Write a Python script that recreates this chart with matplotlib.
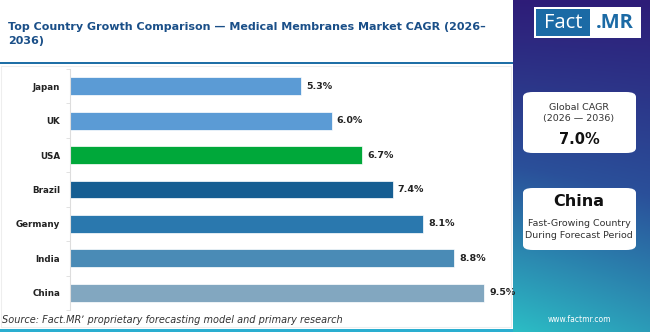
import numpy as np
import matplotlib
matplotlib.use("Agg")
import matplotlib.pyplot as plt
from matplotlib.patches import FancyBboxPatch, Rectangle

# data
countries = ["Japan", "UK", "USA", "Brazil", "Germany", "India", "China"]
cagr = [5.3, 6.0, 6.7, 7.4, 8.1, 8.8, 9.5]
bar_colors = ["#5b9bd5", "#5b9bd5", "#00a83a", "#165e92", "#2a78ae", "#4a8bb6", "#82a7c0"]
title = "Top Country Growth Comparison \u2014 Medical Membranes Market CAGR (2026\u2013\n2036)"
global_cagr = "7.0%"
top_country = "China"

W, H = 650, 332
fig = plt.figure(figsize=(W / 100, H / 100), dpi=100)
fig.patch.set_facecolor("white")

def fx(px):
    return px / W

def fy(py):
    return 1 - py / H

# right gradient panel
pan = fig.add_axes([fx(513), 0, fx(W - 513), 1])
pan.set_axis_off()
ny, nx = 200, 60
yy, xx = np.mgrid[0:1:ny * 1j, 0:1:nx * 1j]
t = np.clip(yy * 0.85 + (1 - xx) * 0.15 * yy, 0, 1)
top = np.array([0x2e, 0x1c, 0x78]) / 255
mid = np.array([0x2a, 0x50, 0x9a]) / 255
bot = np.array([0x2c, 0xbd, 0xc5]) / 255
img = np.zeros((ny, nx, 3))
for c in range(3):
    img[..., c] = np.where(t < 0.5, top[c] + (mid[c] - top[c]) * t / 0.5,
                           mid[c] + (bot[c] - mid[c]) * (t - 0.5) / 0.5)
pan.imshow(img, extent=[0, 1, 0, 1], aspect="auto", origin="upper")
pan.set_xlim(0, 1)
pan.set_ylim(0, 1)

# logo
fig.patches.append(Rectangle((fx(534), fy(38)), fx(107), 31 / H, transform=fig.transFigure,
                             facecolor="white", edgecolor="none"))
fig.patches.append(Rectangle((fx(536), fy(36)), fx(54), 27 / H, transform=fig.transFigure,
                             facecolor="#1b6aa5", edgecolor="none"))
fig.text(fx(563), fy(23), "Fact", color="white", fontsize=14.5, ha="center", va="center",
         family="Open Sans")
fig.text(fx(615), fy(23), ".MR", color="#1b6aa5", fontsize=14.5, ha="center", va="center",
         family="Open Sans", fontweight="bold")

# cards
for y0, y1 in [(92, 153), (188, 250)]:
    fig.patches.append(FancyBboxPatch((fx(523), fy(y1)), fx(113), (y1 - y0) / H,
                                      boxstyle="round,pad=0,rounding_size=0.015",
                                      transform=fig.transFigure, facecolor="white",
                                      edgecolor="none"))
cx = fx(579)
fig.text(cx, fy(107), "Global CAGR", ha="center", va="center", fontsize=6.8, color="#333333")
fig.text(cx, fy(119), "(2026 \u2014 2036)", ha="center", va="center", fontsize=6.8, color="#333333")
fig.text(cx, fy(139), global_cagr, ha="center", va="center", fontsize=10.5, fontweight="bold", color="#111111")
fig.text(cx, fy(201), top_country, ha="center", va="center", fontsize=11.5, fontweight="bold", color="#111111")
fig.text(cx, fy(224), "Fast-Growing Country", ha="center", va="center", fontsize=6.8, color="#333333")
fig.text(cx, fy(236), "During Forecast Period", ha="center", va="center", fontsize=6.8, color="#333333")
fig.text(cx, fy(319), "www.factmr.com", ha="center", va="center", fontsize=5.5, color="white")

# title + rules
fig.text(fx(8), fy(34), title, ha="left", va="center", fontsize=8.0, fontweight="bold",
         color="#1a4f88", linespacing=1.6)
fig.patches.append(Rectangle((0, fy(64)), fx(513), 2.5 / H, transform=fig.transFigure,
                             facecolor="#1f6fa6", edgecolor="none"))
fig.patches.append(Rectangle((0, 0), fx(513), 3.5 / H, transform=fig.transFigure,
                             facecolor="#2aaed0", edgecolor="none"))
fig.patches.append(Rectangle((fx(1), fy(327)), fx(510), 261 / H, transform=fig.transFigure,
                             facecolor="none", edgecolor="#eeeeee", linewidth=0.8))

# bar chart
ax = fig.add_axes([fx(70), fy(310), fx(440), (310 - 69) / H])
y = np.arange(len(countries))
ax.barh(y, cagr, height=0.52, color=bar_colors, edgecolor="white", linewidth=0.5)
for yi, v in zip(y, cagr):
    ax.text(v + 0.12, yi, f"{v:.1f}%", va="center", ha="left", fontsize=6.8,
            fontweight="bold", color="#222222")
ax.set_ylim(len(countries) - 0.5, -0.5)
ax.set_xlim(0, 440 / 43.6)
ax.set_yticks(y)
ax.set_yticklabels(countries, fontsize=6.3, fontweight="bold", color="#222222")
ax.set_yticks(np.arange(len(countries) + 1) - 0.5, minor=True)
ax.tick_params(axis="y", which="major", length=0, pad=7)
ax.tick_params(axis="y", which="minor", length=3, color="#dddddd")
ax.set_xticks([])
for s in ["top", "right", "bottom"]:
    ax.spines[s].set_visible(False)
ax.spines["left"].set_color("#dddddd")
ax.patch.set_alpha(0)

fig.text(fx(2), fy(320), "Source: Fact.MR\u02bc proprietary forecasting model and primary research",
         ha="left", va="center", fontsize=7, style="italic", color="#333333")

fig.savefig("out.png", dpi=100)
